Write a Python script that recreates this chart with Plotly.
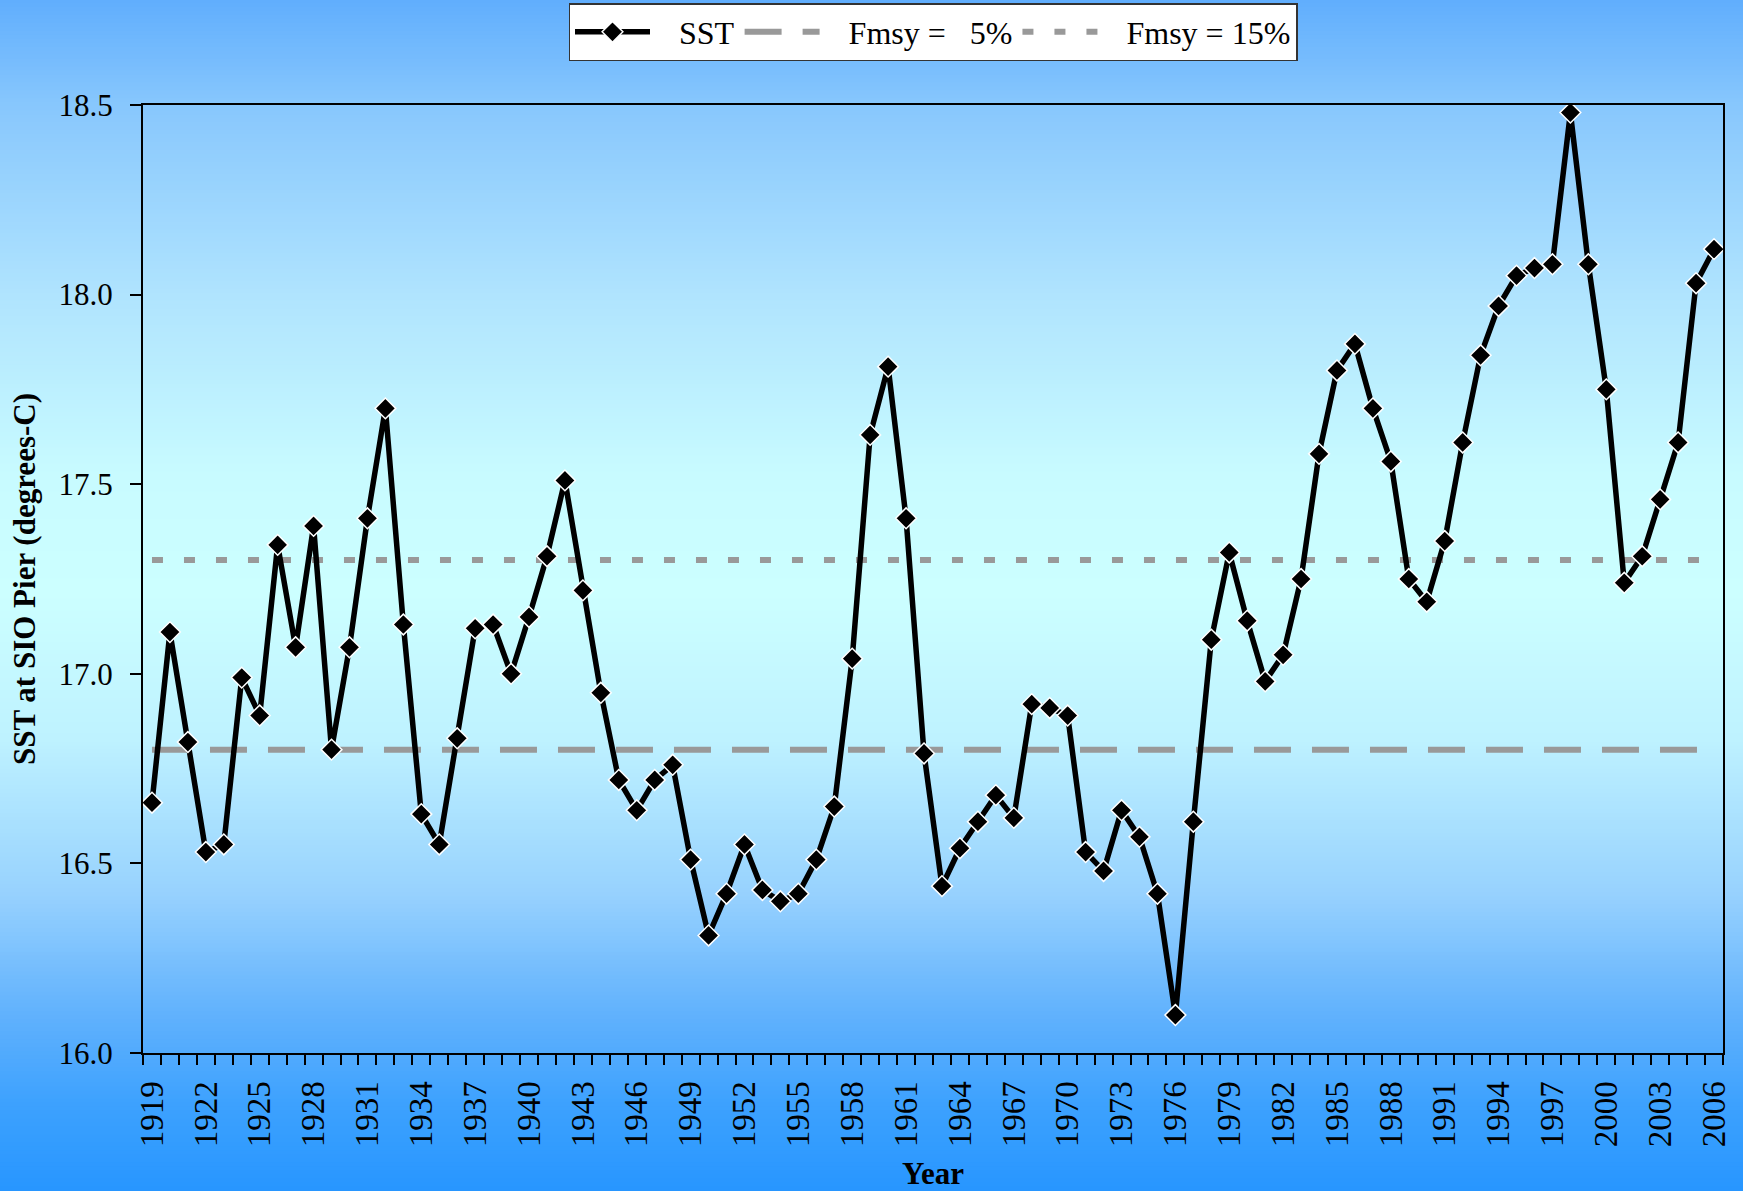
import plotly.graph_objects as go

years = list(range(1919, 2007))
sst = [16.66, 17.11, 16.82, 16.53, 16.55, 16.99, 16.89, 17.34, 17.07, 17.39,
       16.80, 17.07, 17.41, 17.70, 17.13, 16.63, 16.55, 16.83, 17.12, 17.13,
       17.00, 17.15, 17.31, 17.51, 17.22, 16.95, 16.72, 16.64, 16.72, 16.76,
       16.51, 16.31, 16.42, 16.55, 16.43, 16.40, 16.42, 16.51, 16.65, 17.04,
       17.63, 17.81, 17.41, 16.79, 16.44, 16.54, 16.61, 16.68, 16.62, 16.92,
       16.91, 16.89, 16.53, 16.48, 16.64, 16.57, 16.42, 16.10, 16.61, 17.09,
       17.32, 17.14, 16.98, 17.05, 17.25, 17.58, 17.80, 17.87, 17.70, 17.56,
       17.25, 17.19, 17.35, 17.61, 17.84, 17.97, 18.05, 18.07, 18.08, 18.48,
       18.08, 17.75, 17.24, 17.31, 17.46, 17.61, 18.03, 18.12]
fmsy5_level = 16.8
fmsy15_level = 17.3
label_years = list(range(1919, 2007, 3))

W, H = 1743, 1191
ML, MR, MT, MB = 143, 20, 105, 138
PW, PH = W - ML - MR, H - MT - MB

FONT = "Liberation Serif, Times New Roman, serif"
PAD = "\u00a0\u00a0\u00a0"

fig = go.Figure()
fig.add_trace(go.Scatter(
    x=years, y=[fmsy5_level] * len(years), name=PAD + "Fmsy = \u00a0 5%", mode="lines",
    legendrank=2,
    line=dict(color="#999999", width=6, dash="37px,21px"),
))
fig.add_trace(go.Scatter(
    x=years, y=[fmsy15_level] * len(years), name=PAD + "Fmsy = 15%", mode="lines",
    legendrank=3,
    line=dict(color="#999999", width=6, dash="11px,21px"),
))
fig.add_trace(go.Scatter(
    x=years, y=sst, name=PAD + "SST", mode="lines+markers", legendrank=1,
    line=dict(color="black", width=5.5),
    marker=dict(symbol="diamond", size=16, color="black",
                line=dict(color="white", width=1.5)),
))

# background gradient (chart area)
stops = [(0.0, (96, 174, 253)), (0.09, (136, 199, 253)), (0.25, (176, 228, 254)),
         (0.40, (200, 251, 255)), (0.50, (204, 255, 255)), (0.62, (190, 242, 255)),
         (0.75, (152, 210, 254)), (0.85, (98, 178, 253)), (0.93, (60, 161, 254)),
         (1.0, (40, 150, 255))]


def col(t):
    for (a, ca), (b, cb) in zip(stops[:-1], stops[1:]):
        if a <= t <= b:
            f = (t - a) / (b - a) if b > a else 0
            return "rgb(%d,%d,%d)" % tuple(round(ca[i] + (cb[i] - ca[i]) * f) for i in range(3))
    return "rgb(%d,%d,%d)" % stops[-1][1]


nb = 300
shapes = []
for i in range(nb):
    p0 = max(0.0, H * i / nb - 1)
    p1 = H * (i + 1) / nb
    t = (H * (i + 0.5) / nb) / H
    shapes.append(dict(
        type="rect", xref="paper", yref="paper", layer="below",
        x0=-ML / PW, x1=(W - ML) / PW,
        y0=(H - MB - p1) / PH, y1=(H - MB - p0) / PH,
        fillcolor=col(t), line=dict(width=0),
    ))

css_grad = "linear-gradient(to bottom," + ",".join(
    "rgb(%d,%d,%d) %.1f%%" % (c[0], c[1], c[2], s * 100) for s, c in stops) + ")"

fig.update_layout(
    width=W, height=H,
    margin=dict(l=ML, r=MR, t=MT, b=MB, pad=0, autoexpand=False),
    paper_bgcolor="rgba(0,0,0,0)", plot_bgcolor="rgba(0,0,0,0)",
    shapes=shapes,
    font=dict(family=FONT, size=32, color="black"),
    showlegend=True,
    legend=dict(
        orientation="h", x=0.5, xanchor="center", yref="container",
        y=1 - 3 / H, yanchor="top",
        bgcolor="white", bordercolor="#333333", borderwidth=1.5,
        font=dict(family=FONT, size=32, color="black"),
        itemwidth=75, traceorder="normal",
    ),
    xaxis=dict(
        range=[1918.5, 2006.5], tickmode="array", tickvals=label_years,
        ticktext=[str(y) for y in label_years], tickangle=-90,
        ticks="", showgrid=False, zeroline=False, automargin=False,
        showline=True, linecolor="black", linewidth=2, mirror=True,
        tickfont=dict(family=FONT, size=33, color="black"),
        ticklabelstandoff=13,
        minor=dict(ticks="outside", tick0=1918.5, dtick=1, ticklen=10,
                   tickwidth=2, tickcolor="black", showgrid=False),
        title=dict(text="Year", font=dict(family=FONT, size=31, color="black", weight="bold"),
                   standoff=18),
    ),
    yaxis=dict(
        range=[16.0, 18.5], dtick=0.5, tick0=16, tickformat=".1f",
        ticks="outside", ticklen=11, tickwidth=2, tickcolor="black",
        showgrid=False, zeroline=False, automargin=False,
        showline=True, linecolor="black", linewidth=2, mirror=True,
        tickfont=dict(family=FONT, size=31, color="black"),
        ticklabelstandoff=11,
        title=dict(text="SST at SIO Pier (degrees-C)",
                   font=dict(family=FONT, size=31, color="black", weight="bold"),
                   standoff=14),
    ),
)

fig.write_html(
    "out.html",
    config={"displayModeBar": False},
    post_script=("document.body.style.margin='0';document.body.style.overflow='hidden';"
                 "document.documentElement.style.overflow='hidden';"
                 "document.documentElement.style.background='%s';"
                 "document.body.style.background='%s';") % (css_grad, css_grad),
)
